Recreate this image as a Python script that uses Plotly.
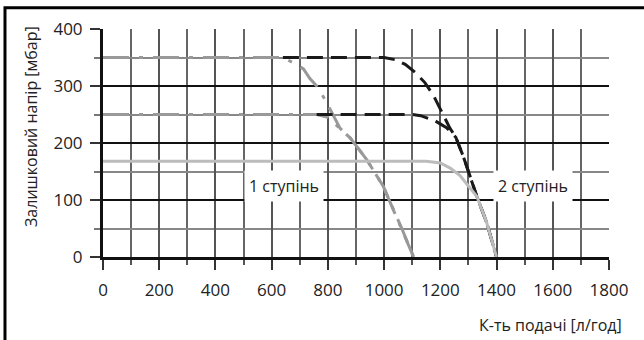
import plotly.graph_objects as go

# pump curves: residual head [mbar] vs flow [l/h]
x_stage1 = [0, 1150, 1200, 1235, 1270, 1305, 1330, 1365, 1400]
y_stage1 = [168, 168, 165, 156, 143, 121, 106, 60, 0]

x_black_hi = [640, 1000, 1040, 1075, 1110, 1145, 1175, 1205, 1234, 1255, 1282, 1305, 1330, 1365, 1400]
y_black_hi = [350, 350, 346, 338, 324, 306, 284, 254, 226, 210, 176, 143, 106, 60, 0]

x_black_lo = [760, 1100, 1130, 1181, 1222, 1255, 1282, 1305, 1330, 1365, 1400]
y_black_lo = [250, 250, 248, 239, 227, 210, 176, 143, 106, 60, 0]

x_gray_hi = [0, 640, 680, 713, 736, 760, 790, 813, 843, 879, 938, 997, 1062, 1105]
y_gray_hi = [350, 350, 340, 330, 313, 300, 276, 254, 226, 209, 171, 124, 51, 0]

x_gray_lo = [0, 760, 800, 843, 879, 938, 997, 1062, 1105]
y_gray_lo = [250, 250, 245, 226, 209, 171, 124, 51, 0]

x_ticks = [0, 200, 400, 600, 800, 1000, 1200, 1400, 1600, 1800]
y_ticks = [0, 100, 200, 300, 400]

x_title = "К-ть подачі [л/год]"
y_title = "Залишковий напір [мбар]"
labels = ["1 ступінь", "2 ступінь"]
label_x = [644, 1530]
label_y = [124, 124]

FONT = "Open Sans"
TXT = "#222222"
DASHDOT = "26px,10px,4px,10px"

fig = go.Figure()
for xs, ys in [(x_gray_hi, y_gray_hi), (x_gray_lo, y_gray_lo)]:
    fig.add_trace(go.Scatter(x=xs, y=ys, mode="lines",
                             line=dict(color="#999999", width=3, dash=DASHDOT)))
for xs, ys in [(x_black_hi, y_black_hi), (x_black_lo, y_black_lo)]:
    fig.add_trace(go.Scatter(x=xs, y=ys, mode="lines",
                             line=dict(color="#1a1a1a", width=3, dash="16px,8px")))
fig.add_trace(go.Scatter(x=x_stage1, y=y_stage1, mode="lines",
                         line=dict(color="#bcbcbc", width=3)))

for t, lx, ly in zip(labels, label_x, label_y):
    fig.add_annotation(x=lx, y=ly, text=t, showarrow=False, bgcolor="white",
                       borderpad=4, font=dict(family=FONT, size=16, color=TXT))

fig.add_annotation(xref="paper", yref="paper", x=1.0296, y=-0.297, text=x_title,
                   showarrow=False, xanchor="right", yanchor="middle",
                   font=dict(family=FONT, size=16, color=TXT))
fig.add_annotation(xref="paper", yref="paper", x=-0.142, y=0.571, text=y_title,
                   showarrow=False, textangle=-90, xanchor="center", yanchor="middle",
                   font=dict(family=FONT, size=16, color=TXT))

# outer frame
fig.add_shape(type="rect", xref="paper", yref="paper", x0=-0.1937, y0=1.0934,
              x1=1.4, y1=-0.5, line=dict(color="black", width=3), layer="above")

fig.update_xaxes(range=[0, 1800], tickvals=x_ticks, ticks="outside", ticklen=10,
                 tickcolor="#333", tickwidth=1.5, showgrid=True, gridcolor="#555",
                 gridwidth=1.5, showline=True, linecolor="#111", linewidth=3,
                 zeroline=False, ticklabelstandoff=6,
                 tickfont=dict(family=FONT, size=17, color=TXT),
                 minor=dict(dtick=100, ticks="outside", ticklen=5, tickcolor="#555",
                            showgrid=True, gridcolor="#666", gridwidth=1.5))
fig.update_yaxes(range=[0, 400], tickvals=y_ticks, ticks="outside", ticklen=10,
                 tickcolor="#333", tickwidth=1.5, showgrid=True, gridcolor="#111",
                 gridwidth=1.5, showline=True, linecolor="#111", linewidth=3,
                 zeroline=False, ticklabelstandoff=4,
                 tickfont=dict(family=FONT, size=17, color=TXT),
                 minor=dict(dtick=50, ticks="outside", ticklen=6, tickcolor="#777",
                            showgrid=True, gridcolor="#888", gridwidth=1.5))

fig.update_layout(width=644, height=340, showlegend=False,
                  margin=dict(l=103, r=35, t=29, b=83),
                  plot_bgcolor="white", paper_bgcolor="white")

fig.write_html("out.html", config={"displayModeBar": False},
               post_script="document.body.style.margin='0px';")
